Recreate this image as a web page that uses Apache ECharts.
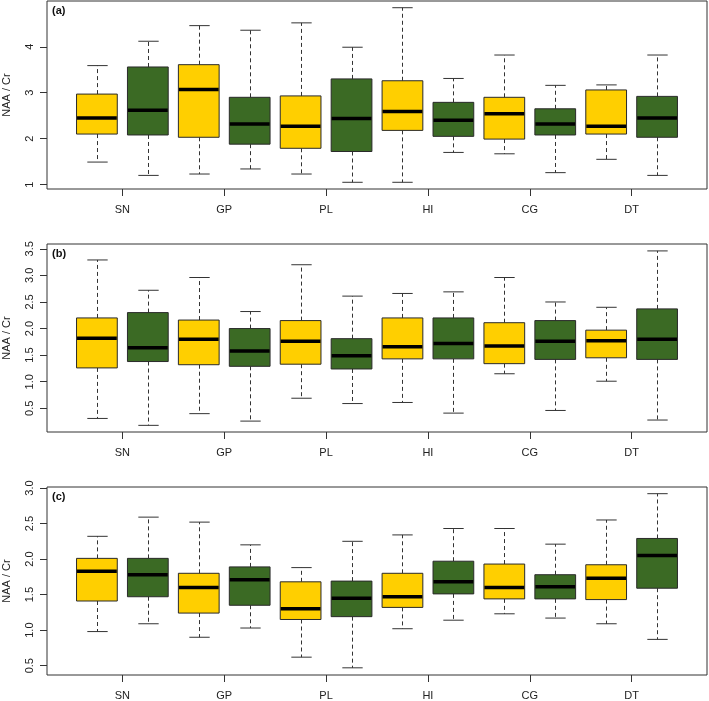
<!DOCTYPE html>
<html>
<head>
<meta charset="utf-8">
<script src="https://cdn.jsdelivr.net/npm/echarts@6/dist/echarts.min.js"></script>
<style>html,body{margin:0;padding:0;background:#fff}#c{width:709px;height:701px}</style>
</head>
<body>
<div id="c"></div>
<script>
// Groups (x-axis tick labels)
const categories = ['SN', 'GP', 'PL', 'HI', 'CG', 'DT'];
// Each entry: [lower whisker, Q1, median, Q3, upper whisker]
const aYellow = [[1.49,2.10,2.45,2.97,3.59],[1.23,2.03,3.07,3.61,4.46],[1.23,1.79,2.27,2.93,4.52],[1.05,2.18,2.59,3.26,4.85],[1.67,1.99,2.54,2.90,3.82],[1.55,2.10,2.27,3.06,3.17]];
const aGreen  = [[1.20,2.08,2.62,3.56,4.12],[1.34,1.88,2.32,2.90,4.36],[1.05,1.72,2.44,3.30,3.99],[1.70,2.05,2.40,2.79,3.31],[1.26,2.08,2.32,2.65,3.16],[1.20,2.03,2.45,2.92,3.82]];
const bYellow = [[0.31,1.26,1.82,2.20,3.29],[0.40,1.32,1.80,2.16,2.96],[0.69,1.33,1.76,2.15,3.20],[0.61,1.43,1.66,2.20,2.66],[1.15,1.34,1.67,2.11,2.96],[1.01,1.45,1.77,1.97,2.40]];
const bGreen  = [[0.18,1.38,1.64,2.30,2.72],[0.26,1.29,1.58,2.00,2.32],[0.59,1.24,1.49,1.81,2.61],[0.41,1.43,1.72,2.20,2.69],[0.46,1.42,1.76,2.15,2.50],[0.28,1.42,1.80,2.37,3.46]];
const cYellow = [[0.98,1.41,1.83,2.01,2.32],[0.90,1.24,1.60,1.80,2.52],[0.62,1.15,1.30,1.68,1.88],[1.02,1.32,1.47,1.80,2.34],[1.23,1.44,1.60,1.93,2.43],[1.09,1.43,1.73,1.92,2.55]];
const cGreen  = [[1.09,1.47,1.78,2.01,2.59],[1.03,1.35,1.71,1.89,2.20],[0.47,1.19,1.45,1.69,2.25],[1.14,1.51,1.68,1.97,2.43],[1.17,1.44,1.61,1.78,2.21],[0.87,1.59,2.05,2.29,2.92]];
// y-axis tick labels
const aTicks = [1, 2, 3, 4];
const bTicks = [0.5, 1.0, 1.5, 2.0, 2.5, 3.0, 3.5];
const cTicks = [0.5, 1.0, 1.5, 2.0, 2.5, 3.0];
const panelLabels = ['(a)', '(b)', '(c)'];

const YELLOW = '#FFCF00';
const GREEN = '#3B6A24';
const EDGE = '#2a2a2a';
const FONT = 'Liberation Sans, Arial, Helvetica, sans-serif';
const groupTickPos = categories.map((c, i) => 2 * i + 1.5);

function buildData(yel, grn) {
  const out = [];
  categories.forEach((c, i) => {
    out.push([2 * i + 1].concat(yel[i], [0]));
    out.push([2 * i + 2].concat(grn[i], [1]));
  });
  return out;
}

function renderBox(params, api) {
  const x = api.value(0);
  const lo = api.value(1), q1 = api.value(2), med = api.value(3), q3 = api.value(4), hi = api.value(5);
  const fill = api.value(6) === 0 ? YELLOW : GREEN;
  const tl = api.coord([x - 0.4, q3]);
  const br = api.coord([x + 0.4, q1]);
  const cx = Math.round(api.coord([x, med])[0]) + 0.5;
  const yMed = api.coord([x, med])[1];
  const yLo = api.coord([x, lo])[1];
  const yHi = api.coord([x, hi])[1];
  const capHalf = (br[0] - tl[0]) / 4;
  const dash = { stroke: '#333', lineWidth: 1, lineDash: [4, 3] };
  const solid = { stroke: '#333', lineWidth: 1 };
  return {
    type: 'group',
    children: [
      { type: 'line', shape: { x1: cx, y1: tl[1], x2: cx, y2: yHi }, style: dash },
      { type: 'line', shape: { x1: cx, y1: br[1], x2: cx, y2: yLo }, style: dash },
      { type: 'line', shape: { x1: cx - capHalf, y1: yHi, x2: cx + capHalf, y2: yHi }, style: solid },
      { type: 'line', shape: { x1: cx - capHalf, y1: yLo, x2: cx + capHalf, y2: yLo }, style: solid },
      { type: 'rect', shape: { x: tl[0], y: tl[1], width: br[0] - tl[0], height: br[1] - tl[1] }, style: { fill: fill, stroke: EDGE, lineWidth: 1 } },
      { type: 'line', shape: { x1: tl[0] + 0.5, y1: yMed, x2: br[0] - 0.5, y2: yMed }, style: { stroke: '#000', lineWidth: 3.5 } }
    ]
  };
}

const panels = [
  { top: 1, min: 0.904, max: 4.996, ticks: aTicks, dec: 0, data: buildData(aYellow, aGreen) },
  { top: 244, min: 0.055, max: 3.59, ticks: bTicks, dec: 1, data: buildData(bYellow, bGreen) },
  { top: 487, min: 0.369, max: 3.014, ticks: cTicks, dec: 1, data: buildData(cYellow, cGreen) }
];

const option = {
  animation: false,
  backgroundColor: '#fff',
  title: panels.map((p, i) => ({
    text: panelLabels[i], left: 52, top: p.top + 4, padding: 0,
    textStyle: { fontSize: 11, fontWeight: 'bold', color: '#111', fontFamily: FONT }
  })),
  grid: panels.map(p => ({ left: 47, right: 2, top: p.top, height: 188, show: true, borderColor: '#333', borderWidth: 1, backgroundColor: 'transparent', containLabel: false, outerBoundsMode: 'none' })),
  xAxis: panels.map((p, i) => ({
    type: 'value', gridIndex: i, min: 0.02, max: 12.98,
    axisLine: { show: false },
    splitLine: { show: false },
    axisTick: { show: true, length: 7, lineStyle: { color: '#333' }, customValues: groupTickPos },
    axisLabel: { show: true, margin: 15, fontSize: 11, color: '#222', fontFamily: FONT,
      customValues: groupTickPos, formatter: v => categories[Math.round((v - 1.5) / 2)] }
  })),
  yAxis: panels.map((p, i) => ({
    type: 'value', gridIndex: i, min: p.min, max: p.max,
    name: 'NAA / Cr', nameLocation: 'middle', nameGap: 35,
    nameTextStyle: { fontSize: 11, color: '#222', fontFamily: FONT },
    axisLine: { show: false },
    splitLine: { show: false },
    axisTick: { show: true, length: 7, lineStyle: { color: '#333' }, customValues: p.ticks },
    axisLabel: { show: true, rotate: 90, margin: 12, fontSize: 11, color: '#222', fontFamily: FONT,
      customValues: p.ticks, formatter: v => v.toFixed(p.dec) }
  })),
  series: panels.map((p, i) => ({
    type: 'custom', xAxisIndex: i, yAxisIndex: i,
    renderItem: renderBox,
    encode: { x: 0, y: [1, 2, 3, 4, 5] },
    data: p.data,
    clip: false
  }))
};

const chart = echarts.init(document.getElementById('c'), null, { renderer: 'canvas' });
chart.setOption(option);
</script>
</body>
</html>
